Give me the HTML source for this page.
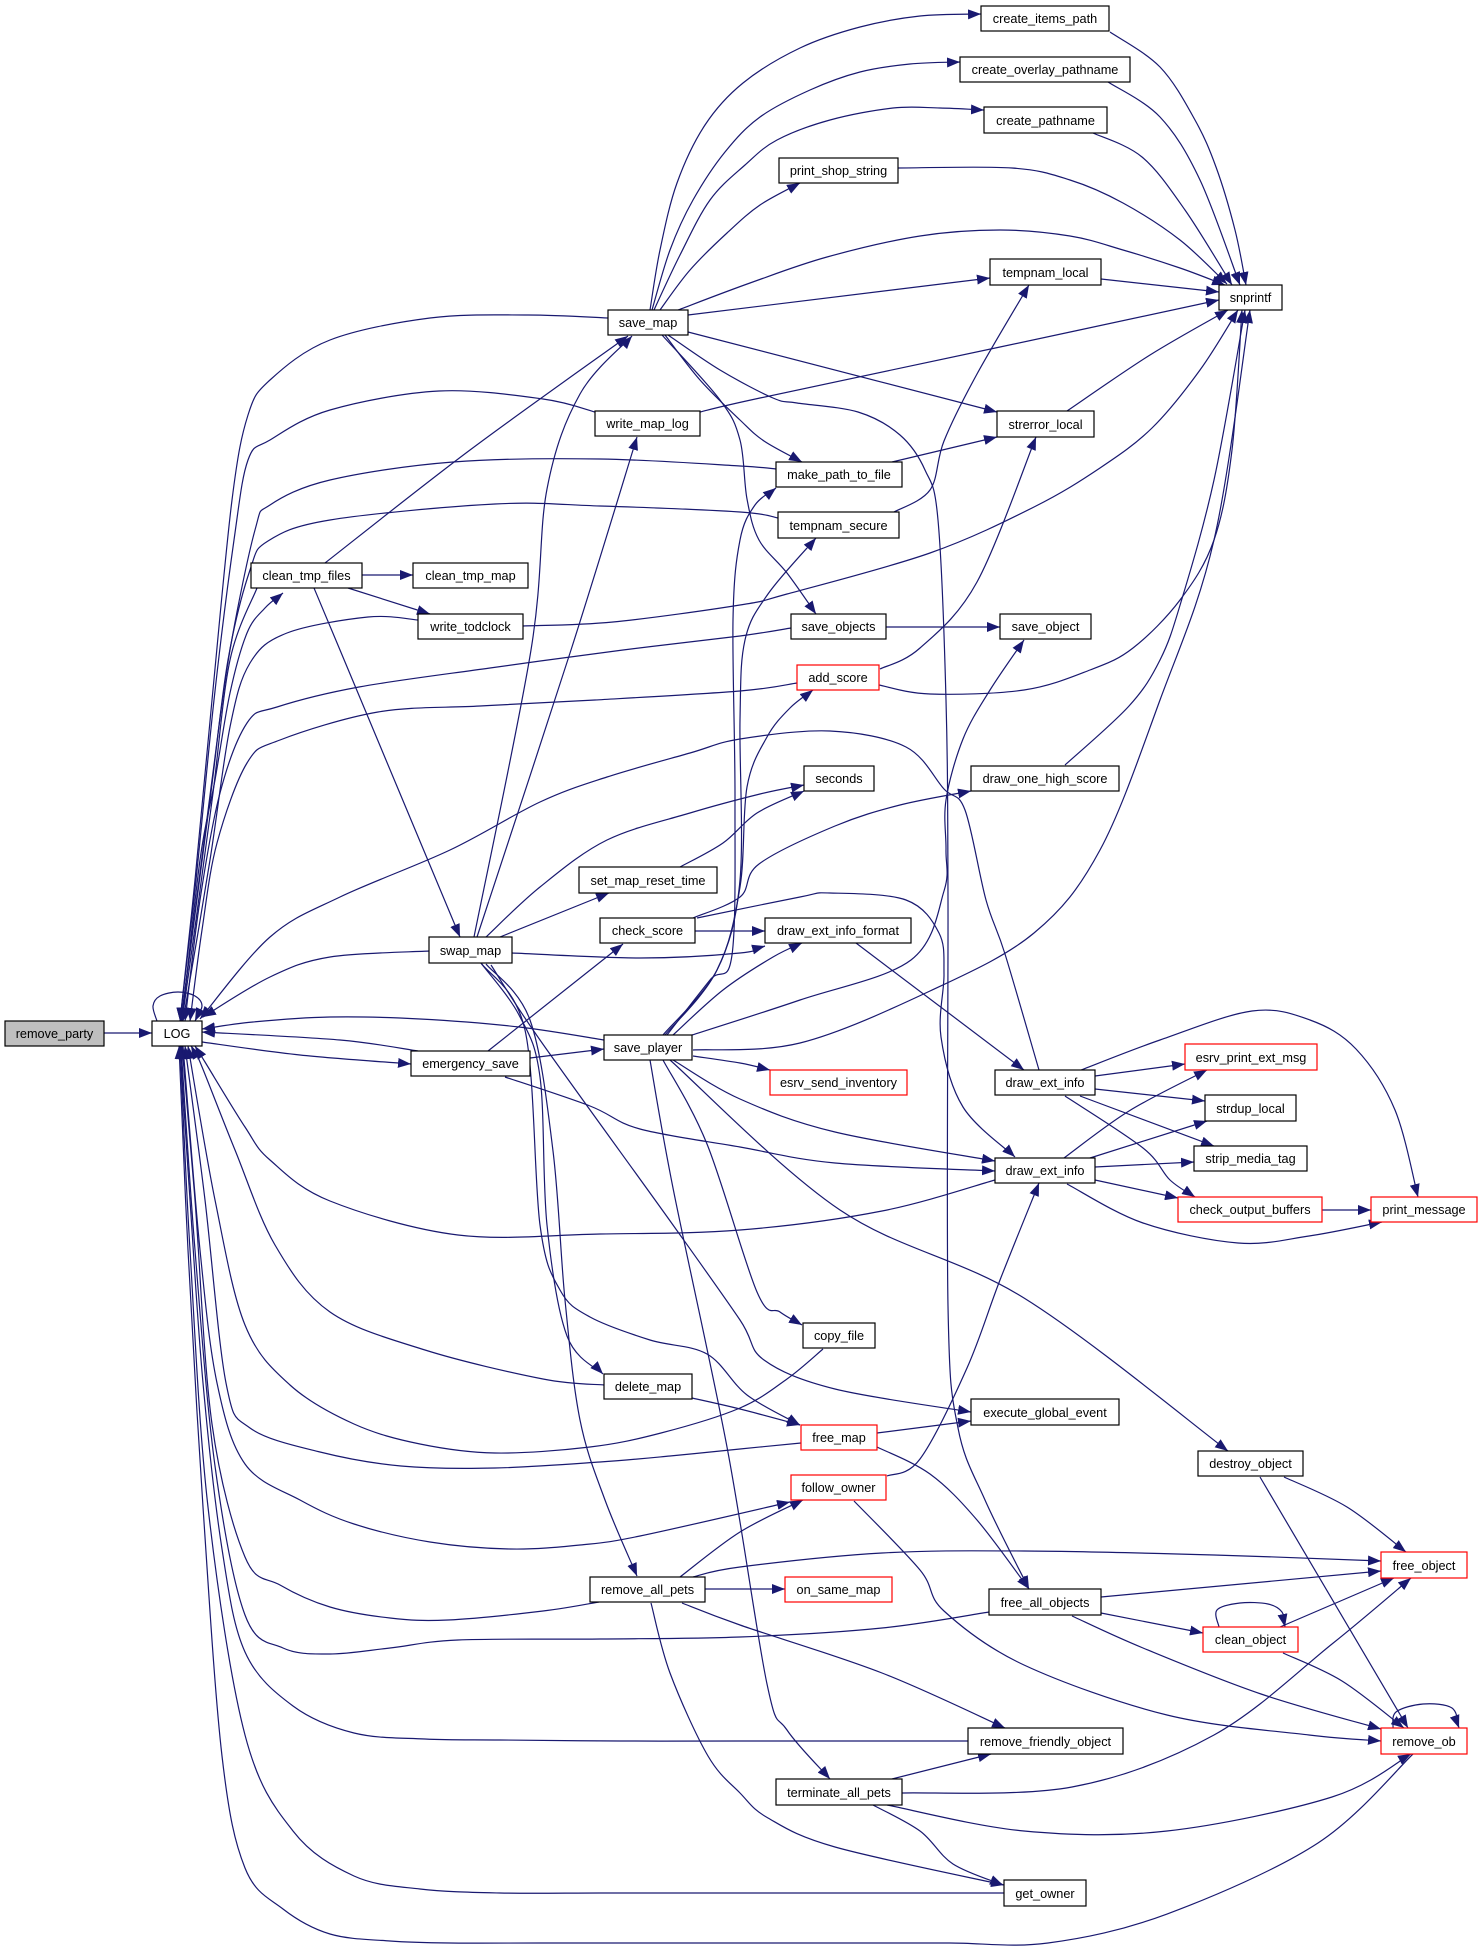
<!DOCTYPE html>
<html><head><meta charset="utf-8"><style>
html,body{margin:0;padding:0;background:#fff;}
svg{display:block;}
text{font-family:"Liberation Sans",Arial,sans-serif;font-size:12.7px;fill:#000;}
</style></head><body>
<svg width="1483" height="1950" viewBox="0 0 1483 1950" xmlns="http://www.w3.org/2000/svg">
<defs>
<marker id="a" markerUnits="userSpaceOnUse" markerWidth="13" markerHeight="10" refX="13" refY="5" orient="auto">
<path d="M0,0 L13,5 L0,10 z" fill="#191970"/>
</marker>
</defs>
<rect width="1483" height="1950" fill="#fff"/>
<g id="edges" fill="none" stroke="#191970" stroke-width="1.2" stroke-linejoin="round" marker-end="url(#a)">
<!-- remove_party / LOG -->
<polyline points="104,1033 152,1033"/>
<polyline points="157,1021 153,1006 160,996 178,992 195,996 202,1006 195,1021"/>
<polyline points="202,1042 300,1055 411,1064"/>
<polyline points="418,1051 340,1040 202,1032"/>
<polyline points="604,1040 519,1027 420,1019 330,1017 253,1022 202,1029"/>
<polyline points="182,1021 200,860 215,780 230,693 247,633 265,608 283,593"/>
<polyline points="257,588 230,660 213,793 196,920 182,1021"/>
<!-- into LOG from above -->
<polyline points="608,318 528,315 430,318 330,340 270,380 248,415 232,500 212,700 195,880 180,1021"/>
<polyline points="595,412 543,399 439,391 330,410 270,440 248,460 234,540 214,700 196,880 180,1021"/>
<polyline points="776,469 740,466 600,459 453,462 330,480 270,505 255,530 230,650 212,780 181,1021"/>
<polyline points="778,518 740,512 600,506 495,504 330,520 268,541 250,570 228,660 210,800 181,1021"/>
<polyline points="418,620 368,617 287,633 250,663 230,727 210,860 183,1021"/>
<polyline points="791,628 740,636 623,650 490,668 359,687 277,707 247,723 220,793 200,900 185,1021"/>
<polyline points="797,683 740,691 595,700 480,706 378,712 280,740 247,763 217,843 202,930 190,1021"/>
<polyline points="1039,1070 1005,954 986,900 965,810 944,789 906,747 830,731 740,739 690,753 607,777 540,802 450,850 340,897 270,937 200,1019"/>
<polyline points="429,951 330,957 270,977 203,1017"/>
<!-- into LOG from below -->
<polyline points="995,1180 882,1211 740,1230 600,1234 458,1235 330,1201 270,1160 245,1127 205,1062 195,1046"/>
<polyline points="604,1385 543,1379 425,1350 330,1312 275,1245 235,1150 200,1062 191,1046"/>
<polyline points="823,1349 787,1379 740,1408 661,1433 590,1447 495,1453 420,1444 354,1424 290,1385 245,1325 215,1200 188,1046"/>
<polyline points="801,1443 740,1449 670,1456 600,1462 495,1468 401,1466 320,1452 250,1428 226,1383 205,1200 185,1046"/>
<polyline points="599,1602 543,1611 448,1620 390,1618 330,1607 280,1585 245,1557 212,1424 195,1200 182,1046"/>
<polyline points="989,1612 882,1628 740,1637 600,1639 458,1640 390,1648 330,1654 283,1648 245,1615 215,1466 195,1250 181,1046"/>
<polyline points="968,1741 850,1741 740,1741 620,1741 500,1740 425,1739 354,1733 293,1706 245,1652 222,1549 203,1383 190,1200 180,1046"/>
<polyline points="1004,1893 900,1893 800,1893 700,1893 600,1893 500,1893 420,1889 354,1876 293,1831 245,1735 208,1507 190,1250 180,1046"/>
<polyline points="1413,1754 1318,1843 1167,1914 1048,1943 950,1943 850,1943 740,1943 640,1943 540,1943 450,1943 390,1941 330,1934 283,1909 245,1868 222,1756 203,1507 188,1250 179,1046"/>
<polyline points="183,1046 200,1250 217,1383 245,1464 300,1500 354,1524 430,1542 510,1549 580,1545 640,1536 790,1502"/>
<!-- clean_tmp_files -->
<polyline points="325,563 470,450 628,336"/>
<polyline points="362,575 413,575"/>
<polyline points="348,588 430,614"/>
<polyline points="314,588 340,650 460,937"/>
<!-- swap_map -->
<polyline points="477,937 571,650 637,437"/>
<polyline points="474,937 531,650 547,489 580,394 632,336"/>
<polyline points="486,937 540,887 607,840 690,813 760,794 804,785"/>
<polyline points="500,937 609,893"/>
<polyline points="512,953 640,958 740,953 765,946"/>
<polyline points="481,963 519,1015 540,1077 547,1225 567,1336 603,1374"/>
<polyline points="486,964 530,1020 553,1151 565,1300 580,1420 605,1500 637,1576"/>
<polyline points="481,963 525,1030 540,1225 560,1290 590,1317 650,1340 707,1354 747,1395 800,1425"/>
<polyline points="491,965 540,1040 673,1225 740,1320 764,1360 835,1389 971,1412"/>
<!-- save_map -->
<polyline points="650,310 660,250 677,183 705,125 743,83 800,48 860,27 920,16 981,14"/>
<polyline points="652,310 670,250 693,200 725,152 760,117 810,90 860,72 910,64 960,62"/>
<polyline points="654,310 680,255 710,200 745,165 777,140 830,120 893,108 940,108 984,110"/>
<polyline points="660,310 690,270 727,233 760,205 800,183"/>
<polyline points="678,310 750,283 827,257 920,236 1000,230 1070,236 1123,250 1180,268 1225,285"/>
<polyline points="688,315 990,278"/>
<polyline points="688,332 997,412"/>
<polyline points="665,335 700,380 740,420 764,441 802,462"/>
<polyline points="662,335 720,400 740,440 747,499 759,540 787,573 816,614"/>
<polyline points="668,335 720,370 773,398 797,403 858,412 900,435 925,470 938,520 946,700 948,900 948,1306 958,1428 985,1500 1029,1589"/>
<!-- to snprintf -->
<polyline points="898,168 1012,168 1070,180 1123,203 1180,240 1227,284"/>
<polyline points="1110,32 1160,67 1195,120 1216,167 1235,230 1246,285"/>
<polyline points="1108,82 1160,117 1200,180 1240,285"/>
<polyline points="1093,133 1142,157 1185,210 1232,285"/>
<polyline points="1101,279 1219,292"/>
<polyline points="700,412 760,398 1000,347 1219,300"/>
<polyline points="1067,411 1150,355 1228,310"/>
<polyline points="523,626 613,622 740,605 787,594 930,553 1034,507 1100,468 1152,428 1200,370 1238,310"/>
<polyline points="879,685 930,694 1024,690 1090,670 1133,648 1180,600 1214,540 1232,450 1242,310"/>
<polyline points="1065,765 1129,706 1160,660 1181,602 1214,480 1245,310"/>
<polyline points="693,1050 800,1043 930,991 1034,933 1100,850 1160,700 1214,540 1250,310"/>
<!-- save_player -->
<polyline points="692,1035 800,1000 911,960 944,891 946,850 946,800 963,739 990,690 1024,640"/>
<polyline points="667,1035 710,980 732,955 735,800 733,620 740,540 755,505 776,488"/>
<polyline points="665,1035 717,970 740,880 740,720 745,640 768,594 816,538"/>
<polyline points="663,1035 717,970 740,887 747,787 767,737 790,708 813,690"/>
<polyline points="673,1035 723,990 773,957 802,943"/>
<polyline points="693,1056 740,1063 770,1070"/>
<polyline points="673,1060 740,1099 835,1132 995,1161"/>
<polyline points="670,1060 840,1210 1024,1298 1228,1451"/>
<polyline points="663,1060 707,1144 757,1292 780,1312 802,1325"/>
<polyline points="650,1060 673,1188 727,1447 767,1684 787,1730 830,1779"/>
<!-- check_score / emergency_save / set_map_reset_time -->
<polyline points="695,931 765,931"/>
<polyline points="693,918 740,897 759,864 835,826 900,805 971,791"/>
<polyline points="697,918 800,897 830,893 906,900 939,933 944,974 941,1037 963,1107 1015,1157"/>
<polyline points="680,867 723,843 757,813 804,791"/>
<polyline points="488,1051 623,944"/>
<polyline points="530,1058 604,1049"/>
<polyline points="505,1077 590,1106 640,1129 740,1147 835,1163 995,1171"/>
<!-- misc upper -->
<polyline points="892,462 997,437"/>
<polyline points="894,512 930,490 944,441 977,374 1029,285"/>
<polyline points="880,669 920,648 977,582 1036,437"/>
<polyline points="886,627 1000,627"/>
<polyline points="856,943 1024,1070"/>
<!-- draw_ext_info A -->
<polyline points="1095,1076 1185,1064"/>
<polyline points="1095,1089 1205,1101"/>
<polyline points="1080,1096 1214,1146"/>
<polyline points="1065,1096 1143,1148 1170,1180 1195,1197"/>
<polyline points="1081,1070 1160,1040 1252,1011 1310,1020 1356,1049 1395,1110 1418,1197"/>
<!-- draw_ext_info B -->
<polyline points="1064,1158 1129,1111 1207,1070"/>
<polyline points="1090,1158 1207,1121"/>
<polyline points="1095,1167 1194,1162"/>
<polyline points="1095,1180 1178,1198"/>
<polyline points="1067,1184 1143,1223 1238,1243 1309,1236 1382,1222"/>
<polyline points="1322,1210 1371,1210"/>
<!-- lower area -->
<polyline points="877,1433 971,1421"/>
<polyline points="692,1398 740,1409 800,1425"/>
<polyline points="877,1447 930,1474 977,1520 1029,1589"/>
<polyline points="887,1476 920,1459 967,1368 1000,1280 1039,1183"/>
<polyline points="854,1501 920,1570 944,1611 1024,1665 1167,1715 1309,1735 1381,1741"/>
<polyline points="680,1577 740,1532 803,1500"/>
<polyline points="705,1589 785,1589"/>
<polyline points="693,1577 740,1567 882,1553 1024,1551 1214,1555 1381,1561"/>
<polyline points="682,1603 740,1625 882,1673 1005,1728"/>
<polyline points="651,1603 670,1673 708,1756 740,1793 768,1818 835,1847 1004,1885"/>
<polyline points="1101,1597 1381,1571"/>
<polyline points="1101,1613 1203,1633"/>
<polyline points="1072,1616 1143,1648 1261,1694 1381,1729"/>
<polyline points="1219,1627 1217,1610 1240,1603 1268,1604 1282,1612 1285,1627"/>
<polyline points="1280,1627 1394,1578"/>
<polyline points="1283,1653 1342,1681 1404,1728"/>
<polyline points="1284,1477 1347,1507 1406,1552"/>
<polyline points="1260,1477 1408,1728"/>
<polyline points="1393,1728 1396,1712 1423,1704 1452,1708 1459,1728"/>
<polyline points="892,1779 991,1754"/>
<polyline points="902,1793 1072,1787 1214,1735 1332,1644 1411,1578"/>
<polyline points="887,1805 1024,1831 1167,1831 1332,1797 1411,1754"/>
<polyline points="873,1805 920,1831 953,1864 1003,1885"/>
</g>
<g stroke-width="1.2">
<rect x="5" y="1021" width="99" height="25" fill="#bfbfbf" stroke="#000"/>
<rect x="152" y="1021" width="50" height="25" fill="#fff" stroke="#000"/>
<rect x="608" y="310" width="80" height="25" fill="#fff" stroke="#000"/>
<rect x="595" y="411" width="105" height="25" fill="#fff" stroke="#000"/>
<rect x="251" y="563" width="111" height="25" fill="#fff" stroke="#000"/>
<rect x="413" y="563" width="115" height="25" fill="#fff" stroke="#000"/>
<rect x="418" y="614" width="105" height="25" fill="#fff" stroke="#000"/>
<rect x="429" y="937" width="83" height="26" fill="#fff" stroke="#000"/>
<rect x="579" y="867" width="138" height="26" fill="#fff" stroke="#000"/>
<rect x="600" y="918" width="95" height="25" fill="#fff" stroke="#000"/>
<rect x="411" y="1051" width="119" height="25" fill="#fff" stroke="#000"/>
<rect x="604" y="1035" width="88" height="25" fill="#fff" stroke="#000"/>
<rect x="604" y="1374" width="88" height="25" fill="#fff" stroke="#000"/>
<rect x="590" y="1577" width="115" height="25" fill="#fff" stroke="#000"/>
<rect x="981" y="6" width="128" height="25" fill="#fff" stroke="#000"/>
<rect x="960" y="57" width="170" height="25" fill="#fff" stroke="#000"/>
<rect x="984" y="107" width="123" height="26" fill="#fff" stroke="#000"/>
<rect x="779" y="158" width="119" height="25" fill="#fff" stroke="#000"/>
<rect x="990" y="259" width="111" height="26" fill="#fff" stroke="#000"/>
<rect x="1219" y="285" width="63" height="25" fill="#fff" stroke="#000"/>
<rect x="997" y="411" width="97" height="26" fill="#fff" stroke="#000"/>
<rect x="776" y="462" width="126" height="25" fill="#fff" stroke="#000"/>
<rect x="778" y="512" width="121" height="26" fill="#fff" stroke="#000"/>
<rect x="791" y="614" width="95" height="25" fill="#fff" stroke="#000"/>
<rect x="1000" y="614" width="91" height="25" fill="#fff" stroke="#000"/>
<rect x="797" y="665" width="82" height="25" fill="#fff" stroke="#ff0000"/>
<rect x="804" y="766" width="70" height="25" fill="#fff" stroke="#000"/>
<rect x="971" y="766" width="148" height="25" fill="#fff" stroke="#000"/>
<rect x="765" y="918" width="146" height="25" fill="#fff" stroke="#000"/>
<rect x="770" y="1070" width="137" height="25" fill="#fff" stroke="#ff0000"/>
<rect x="995" y="1070" width="100" height="25" fill="#fff" stroke="#000"/>
<rect x="995" y="1158" width="100" height="25" fill="#fff" stroke="#000"/>
<rect x="1185" y="1044" width="132" height="26" fill="#fff" stroke="#ff0000"/>
<rect x="1205" y="1095" width="91" height="26" fill="#fff" stroke="#000"/>
<rect x="1194" y="1146" width="113" height="25" fill="#fff" stroke="#000"/>
<rect x="1178" y="1197" width="144" height="25" fill="#fff" stroke="#ff0000"/>
<rect x="1371" y="1197" width="106" height="25" fill="#fff" stroke="#ff0000"/>
<rect x="803" y="1323" width="72" height="25" fill="#fff" stroke="#000"/>
<rect x="971" y="1399" width="148" height="26" fill="#fff" stroke="#000"/>
<rect x="801" y="1425" width="76" height="25" fill="#fff" stroke="#ff0000"/>
<rect x="791" y="1475" width="95" height="25" fill="#fff" stroke="#ff0000"/>
<rect x="1198" y="1451" width="105" height="25" fill="#fff" stroke="#000"/>
<rect x="1381" y="1552" width="86" height="26" fill="#fff" stroke="#ff0000"/>
<rect x="785" y="1577" width="107" height="25" fill="#fff" stroke="#ff0000"/>
<rect x="989" y="1589" width="112" height="26" fill="#fff" stroke="#000"/>
<rect x="1203" y="1627" width="95" height="25" fill="#fff" stroke="#ff0000"/>
<rect x="1381" y="1728" width="86" height="26" fill="#fff" stroke="#ff0000"/>
<rect x="968" y="1728" width="155" height="26" fill="#fff" stroke="#000"/>
<rect x="776" y="1779" width="126" height="26" fill="#fff" stroke="#000"/>
<rect x="1004" y="1880" width="82" height="26" fill="#fff" stroke="#000"/>
</g>
<g text-anchor="middle">
<text x="54.5" y="1038">remove_party</text>
<text x="177" y="1038">LOG</text>
<text x="648" y="327">save_map</text>
<text x="647.5" y="428">write_map_log</text>
<text x="306.5" y="580">clean_tmp_files</text>
<text x="470.5" y="580">clean_tmp_map</text>
<text x="470.5" y="631">write_todclock</text>
<text x="470.5" y="955">swap_map</text>
<text x="648" y="885">set_map_reset_time</text>
<text x="647.5" y="935">check_score</text>
<text x="470.5" y="1068">emergency_save</text>
<text x="648" y="1052">save_player</text>
<text x="648" y="1391">delete_map</text>
<text x="647.5" y="1594">remove_all_pets</text>
<text x="1045" y="23">create_items_path</text>
<text x="1045" y="74">create_overlay_pathname</text>
<text x="1045.5" y="125">create_pathname</text>
<text x="838.5" y="175">print_shop_string</text>
<text x="1045.5" y="277">tempnam_local</text>
<text x="1250.5" y="302">snprintf</text>
<text x="1045.5" y="429">strerror_local</text>
<text x="839" y="479">make_path_to_file</text>
<text x="838.5" y="530">tempnam_secure</text>
<text x="838.5" y="631">save_objects</text>
<text x="1045.5" y="631">save_object</text>
<text x="838" y="682">add_score</text>
<text x="839" y="783">seconds</text>
<text x="1045" y="783">draw_one_high_score</text>
<text x="838" y="935">draw_ext_info_format</text>
<text x="838.5" y="1087">esrv_send_inventory</text>
<text x="1045" y="1087">draw_ext_info</text>
<text x="1045" y="1175">draw_ext_info</text>
<text x="1251" y="1062">esrv_print_ext_msg</text>
<text x="1250.5" y="1113">strdup_local</text>
<text x="1250.5" y="1163">strip_media_tag</text>
<text x="1250" y="1214">check_output_buffers</text>
<text x="1424" y="1214">print_message</text>
<text x="839" y="1340">copy_file</text>
<text x="1045" y="1417">execute_global_event</text>
<text x="839" y="1442">free_map</text>
<text x="838.5" y="1492">follow_owner</text>
<text x="1250.5" y="1468">destroy_object</text>
<text x="1424" y="1570">free_object</text>
<text x="838.5" y="1594">on_same_map</text>
<text x="1045" y="1607">free_all_objects</text>
<text x="1250.5" y="1644">clean_object</text>
<text x="1424" y="1746">remove_ob</text>
<text x="1045.5" y="1746">remove_friendly_object</text>
<text x="839" y="1797">terminate_all_pets</text>
<text x="1045" y="1898">get_owner</text>
</g>
</svg>
<script>
(function(){
  var ns="http://www.w3.org/2000/svg";
  var pls=document.querySelectorAll('#edges polyline');
  for(var k=0;k<pls.length;k++){
    var pl=pls[k];
    var nums=pl.getAttribute('points').trim().split(/[\s,]+/).map(Number);
    var p=[];
    for(var i=0;i+1<nums.length;i+=2)p.push([nums[i],nums[i+1]]);
    if(p.length<3)continue;
    var d='M'+p[0][0]+','+p[0][1];
    for(var j=0;j<p.length-1;j++){
      var p0=p[j>0?j-1:j],p1=p[j],p2=p[j+1],p3=p[j+2<p.length?j+2:j+1];
      var c1x=p1[0]+(p2[0]-p0[0])/6,c1y=p1[1]+(p2[1]-p0[1])/6;
      var c2x=p2[0]-(p3[0]-p1[0])/6,c2y=p2[1]-(p3[1]-p1[1])/6;
      d+=' C'+c1x.toFixed(1)+','+c1y.toFixed(1)+' '+c2x.toFixed(1)+','+c2y.toFixed(1)+' '+p2[0]+','+p2[1];
    }
    var path=document.createElementNS(ns,'path');
    path.setAttribute('d',d);
    pl.parentNode.replaceChild(path,pl);
  }
})();
</script>
</body></html>
